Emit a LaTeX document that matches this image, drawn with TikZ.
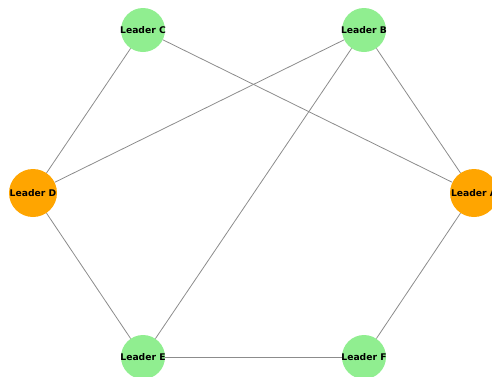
\documentclass[tikz,border=0pt]{standalone}
\usepackage{fontspec}
\setmainfont{DejaVu Sans}
\usetikzlibrary{arrows,automata}
\definecolor{leadgreen}{HTML}{90EE90}
\definecolor{leadorange}{HTML}{FFA500}
\definecolor{linkgray}{HTML}{8C8C8C}

\begin{document}
\begin{tikzpicture}[x=1pt,y=-1pt,
  leader/.style={circle,fill=leadgreen,minimum size=44pt,inner sep=0pt},
  chief/.style={leader,fill=leadorange,minimum size=48pt},
  tag/.style={font=\bfseries\fontsize{9.2}{10}\selectfont},
  link/.style={draw=linkgray,line width=0.8pt}]

  \useasboundingbox (0,0) rectangle (492,376);
  \clip (0,0) rectangle (492,376);

  \node[leader] (lc) at (143,30)  [label={[tag]center:Leader C}] {};
  \node[leader] (lb) at (364,30)  [label={[tag]center:Leader B}] {};
  \node[chief]  (ld) at (33,193)  [label={[tag]center:Leader D}] {};
  \node[chief]  (la) at (474,193) [label={[tag]center:Leader A}] {};
  \node[leader] (le) at (143,357) [label={[tag]center:Leader E}] {};
  \node[leader] (lf) at (364,357) [label={[tag]center:Leader F}] {};

  \path[link] (lc) edge (ld)
		(lc) edge (la)
		(lb) edge (ld)
		(lb) edge (le)
		(lb) edge (la)
		(ld) edge (le)
		(le) edge (lf)
		(lf) edge (la);

\end{tikzpicture}
\end{document}
